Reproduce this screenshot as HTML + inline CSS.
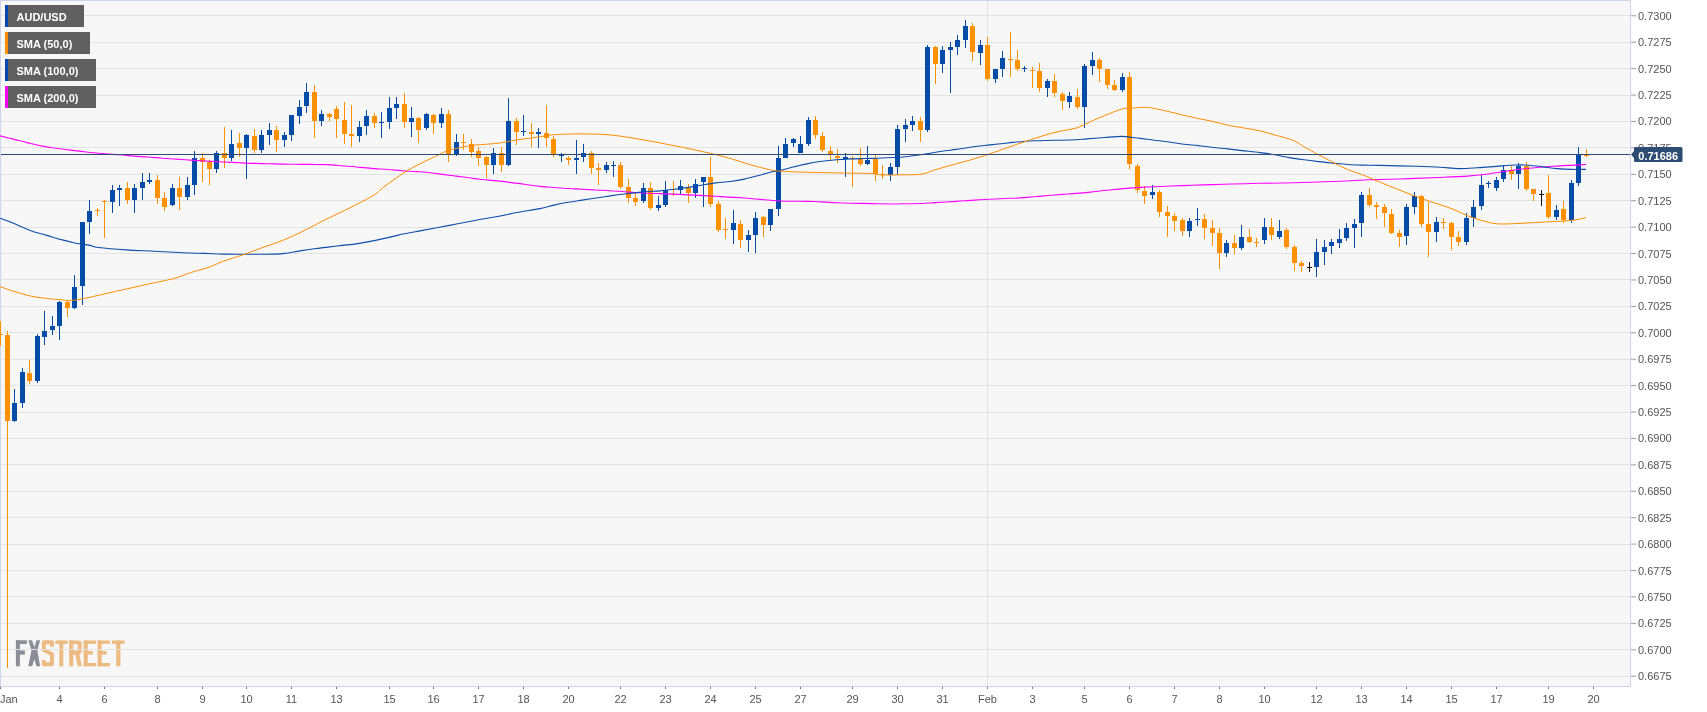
<!DOCTYPE html>
<html><head><meta charset="utf-8"><style>
html,body{margin:0;padding:0;background:#fff;}
body{width:1707px;height:712px;position:relative;overflow:hidden;font-family:"Liberation Sans",sans-serif;}
.lg{position:absolute;left:5px;height:22px;background:#606060;color:#fff;font-weight:bold;font-size:11px;line-height:25px;will-change:transform;box-sizing:border-box;padding-left:11.5px;white-space:nowrap;}
.st{position:absolute;left:0;top:0;width:3px;height:22px;}
</style></head><body>
<svg width="1707" height="712" viewBox="0 0 1707 712" style="position:absolute;left:0;top:0;will-change:transform">
<rect x="0" y="0" width="1631" height="687" fill="#f7f7f7"/>
<g><g fill="#8b8e98"><rect x="15.9" y="640.3" width="4" height="26"/><rect x="15.9" y="640.3" width="11" height="3.7"/><rect x="15.9" y="650.5" width="9" height="4.1"/><polygon points="28.3,640.3 32.1,640.3 34.4,647.3 36.4,640.3 40.1,640.3 37.6,649.6 37.6,651.8 40.1,666.3 36.4,666.3 34.4,659.2 32.2,666.3 28.3,666.3 31.2,651.8 31.2,649.6"/></g><g fill="none" stroke="#edbb82" stroke-width="4" stroke-linejoin="round"><path d="M52,646.8 L52,642.3 L43.8,642.3 L43.8,649.8 L52,654.2 L52,664.3 L43.8,664.3 L43.8,659.9"/></g><g fill="#edbb82"><rect x="55.3" y="640.5" width="12.4" height="3.4"/><rect x="59.3" y="640.5" width="4" height="25.8"/><rect x="69.2" y="640.5" width="4" height="25.8"/><path d="M69.2,640.5 L78.5,640.5 Q81.8,640.5 81.8,643.8 L81.8,650 Q81.8,653 79.5,654.2 L81.8,666.3 L77.6,666.3 L75.3,654.6 L69.2,654.6 L69.2,650.5 L77.8,650.5 L77.8,644.3 L69.2,644.3 Z"/><rect x="83.7" y="640.5" width="4.1" height="25.8"/><rect x="83.7" y="640.5" width="12.3" height="3.4"/><rect x="83.7" y="651" width="9.1" height="3.6"/><rect x="83.7" y="663" width="12.3" height="3.3"/><rect x="97.6" y="640.5" width="4.1" height="25.8"/><rect x="97.6" y="640.5" width="12.3" height="3.4"/><rect x="97.6" y="651" width="9.1" height="3.6"/><rect x="97.6" y="663" width="12.3" height="3.3"/><rect x="111.9" y="640.5" width="12.6" height="3.4"/><rect x="116.2" y="640.5" width="4.2" height="25.8"/></g></g>
<g fill="#e3e3e3" shape-rendering="crispEdges">
<rect x="1" y="15" width="1629" height="1"/>
<rect x="1" y="42" width="1629" height="1"/>
<rect x="1" y="68" width="1629" height="1"/>
<rect x="1" y="95" width="1629" height="1"/>
<rect x="1" y="121" width="1629" height="1"/>
<rect x="1" y="147" width="1629" height="1"/>
<rect x="1" y="174" width="1629" height="1"/>
<rect x="1" y="200" width="1629" height="1"/>
<rect x="1" y="227" width="1629" height="1"/>
<rect x="1" y="253" width="1629" height="1"/>
<rect x="1" y="279" width="1629" height="1"/>
<rect x="1" y="306" width="1629" height="1"/>
<rect x="1" y="332" width="1629" height="1"/>
<rect x="1" y="359" width="1629" height="1"/>
<rect x="1" y="385" width="1629" height="1"/>
<rect x="1" y="412" width="1629" height="1"/>
<rect x="1" y="438" width="1629" height="1"/>
<rect x="1" y="464" width="1629" height="1"/>
<rect x="1" y="491" width="1629" height="1"/>
<rect x="1" y="517" width="1629" height="1"/>
<rect x="1" y="544" width="1629" height="1"/>
<rect x="1" y="570" width="1629" height="1"/>
<rect x="1" y="596" width="1629" height="1"/>
<rect x="1" y="623" width="1629" height="1"/>
<rect x="1" y="649" width="1629" height="1"/>
<rect x="1" y="676" width="1629" height="1"/>
<rect x="987" y="1" width="1" height="685"/>
</g>
<g fill="#cfd5e8" shape-rendering="crispEdges">
<rect x="0" y="0" width="1631" height="1"/>
<rect x="0" y="0" width="1" height="687"/>
<rect x="1630" y="0" width="1" height="687"/>
<rect x="0" y="686" width="1631" height="1"/>
</g>
<g shape-rendering="crispEdges">
<rect x="0" y="321" width="1" height="25" fill="#ff9000"/>
<rect x="-2" y="334" width="5" height="1" fill="#ff9000"/>
<rect x="7" y="331" width="1" height="337" fill="#ff9000"/>
<rect x="5" y="335" width="5" height="86" fill="#ff9000"/>
<rect x="14" y="389" width="1" height="33" fill="#054ca8"/>
<rect x="12" y="403" width="5" height="18" fill="#054ca8"/>
<rect x="22" y="368" width="1" height="40" fill="#054ca8"/>
<rect x="20" y="372" width="5" height="31" fill="#054ca8"/>
<rect x="29" y="360" width="1" height="24" fill="#ff9000"/>
<rect x="27" y="373" width="5" height="8" fill="#ff9000"/>
<rect x="37" y="334" width="1" height="49" fill="#054ca8"/>
<rect x="35" y="336" width="5" height="45" fill="#054ca8"/>
<rect x="44" y="311" width="1" height="34" fill="#054ca8"/>
<rect x="42" y="331" width="5" height="6" fill="#054ca8"/>
<rect x="52" y="316" width="1" height="19" fill="#054ca8"/>
<rect x="50" y="326" width="5" height="4" fill="#054ca8"/>
<rect x="59" y="301" width="1" height="39" fill="#054ca8"/>
<rect x="57" y="302" width="5" height="24" fill="#054ca8"/>
<rect x="67" y="300" width="1" height="17" fill="#ff9000"/>
<rect x="65" y="302" width="5" height="6" fill="#ff9000"/>
<rect x="74" y="275" width="1" height="34" fill="#054ca8"/>
<rect x="72" y="287" width="5" height="21" fill="#054ca8"/>
<rect x="82" y="222" width="1" height="83" fill="#054ca8"/>
<rect x="80" y="222" width="5" height="64" fill="#054ca8"/>
<rect x="89" y="200" width="1" height="34" fill="#054ca8"/>
<rect x="87" y="211" width="5" height="11" fill="#054ca8"/>
<rect x="97" y="208" width="1" height="8" fill="#ff9000"/>
<rect x="95" y="210" width="5" height="1" fill="#ff9000"/>
<rect x="104" y="200" width="1" height="38" fill="#ff9000"/>
<rect x="102" y="201" width="5" height="1" fill="#ff9000"/>
<rect x="112" y="185" width="1" height="28" fill="#054ca8"/>
<rect x="110" y="190" width="5" height="12" fill="#054ca8"/>
<rect x="119" y="185" width="1" height="21" fill="#054ca8"/>
<rect x="117" y="188" width="5" height="2" fill="#054ca8"/>
<rect x="127" y="182" width="1" height="22" fill="#ff9000"/>
<rect x="125" y="188" width="5" height="12" fill="#ff9000"/>
<rect x="134" y="184" width="1" height="29" fill="#054ca8"/>
<rect x="132" y="188" width="5" height="12" fill="#054ca8"/>
<rect x="142" y="173" width="1" height="27" fill="#054ca8"/>
<rect x="140" y="182" width="5" height="6" fill="#054ca8"/>
<rect x="149" y="173" width="1" height="11" fill="#054ca8"/>
<rect x="147" y="180" width="5" height="2" fill="#054ca8"/>
<rect x="157" y="175" width="1" height="29" fill="#ff9000"/>
<rect x="155" y="180" width="5" height="18" fill="#ff9000"/>
<rect x="164" y="192" width="1" height="19" fill="#ff9000"/>
<rect x="162" y="198" width="5" height="9" fill="#ff9000"/>
<rect x="172" y="184" width="1" height="22" fill="#054ca8"/>
<rect x="170" y="188" width="5" height="17" fill="#054ca8"/>
<rect x="179" y="177" width="1" height="33" fill="#ff9000"/>
<rect x="177" y="188" width="5" height="9" fill="#ff9000"/>
<rect x="187" y="177" width="1" height="23" fill="#054ca8"/>
<rect x="185" y="185" width="5" height="12" fill="#054ca8"/>
<rect x="194" y="151" width="1" height="44" fill="#054ca8"/>
<rect x="192" y="158" width="5" height="27" fill="#054ca8"/>
<rect x="202" y="153" width="1" height="29" fill="#ff9000"/>
<rect x="200" y="158" width="5" height="4" fill="#ff9000"/>
<rect x="209" y="160" width="1" height="25" fill="#ff9000"/>
<rect x="207" y="162" width="5" height="7" fill="#ff9000"/>
<rect x="216" y="151" width="1" height="22" fill="#054ca8"/>
<rect x="214" y="153" width="5" height="16" fill="#054ca8"/>
<rect x="224" y="127" width="1" height="41" fill="#ff9000"/>
<rect x="222" y="153" width="5" height="5" fill="#ff9000"/>
<rect x="231" y="130" width="1" height="31" fill="#054ca8"/>
<rect x="229" y="144" width="5" height="14" fill="#054ca8"/>
<rect x="239" y="133" width="1" height="24" fill="#ff9000"/>
<rect x="237" y="143" width="5" height="5" fill="#ff9000"/>
<rect x="246" y="134" width="1" height="45" fill="#054ca8"/>
<rect x="244" y="135" width="5" height="13" fill="#054ca8"/>
<rect x="254" y="129" width="1" height="24" fill="#ff9000"/>
<rect x="252" y="136" width="5" height="14" fill="#ff9000"/>
<rect x="261" y="130" width="1" height="23" fill="#054ca8"/>
<rect x="259" y="135" width="5" height="15" fill="#054ca8"/>
<rect x="269" y="123" width="1" height="22" fill="#054ca8"/>
<rect x="267" y="130" width="5" height="5" fill="#054ca8"/>
<rect x="276" y="126" width="1" height="26" fill="#ff9000"/>
<rect x="274" y="130" width="5" height="10" fill="#ff9000"/>
<rect x="284" y="132" width="1" height="15" fill="#054ca8"/>
<rect x="282" y="135" width="5" height="5" fill="#054ca8"/>
<rect x="291" y="115" width="1" height="26" fill="#054ca8"/>
<rect x="289" y="115" width="5" height="20" fill="#054ca8"/>
<rect x="299" y="100" width="1" height="24" fill="#054ca8"/>
<rect x="297" y="107" width="5" height="9" fill="#054ca8"/>
<rect x="306" y="83" width="1" height="30" fill="#054ca8"/>
<rect x="304" y="92" width="5" height="14" fill="#054ca8"/>
<rect x="314" y="85" width="1" height="53" fill="#ff9000"/>
<rect x="312" y="92" width="5" height="29" fill="#ff9000"/>
<rect x="321" y="110" width="1" height="16" fill="#054ca8"/>
<rect x="319" y="114" width="5" height="7" fill="#054ca8"/>
<rect x="329" y="113" width="1" height="8" fill="#ff9000"/>
<rect x="327" y="114" width="5" height="3" fill="#ff9000"/>
<rect x="336" y="106" width="1" height="32" fill="#ff9000"/>
<rect x="334" y="109" width="5" height="10" fill="#ff9000"/>
<rect x="344" y="102" width="1" height="42" fill="#ff9000"/>
<rect x="342" y="120" width="5" height="14" fill="#ff9000"/>
<rect x="351" y="105" width="1" height="42" fill="#ff9000"/>
<rect x="349" y="134" width="5" height="2" fill="#ff9000"/>
<rect x="359" y="121" width="1" height="21" fill="#054ca8"/>
<rect x="357" y="127" width="5" height="9" fill="#054ca8"/>
<rect x="366" y="110" width="1" height="25" fill="#054ca8"/>
<rect x="364" y="116" width="5" height="10" fill="#054ca8"/>
<rect x="374" y="113" width="1" height="15" fill="#ff9000"/>
<rect x="372" y="116" width="5" height="7" fill="#ff9000"/>
<rect x="381" y="112" width="1" height="26" fill="#054ca8"/>
<rect x="379" y="122" width="5" height="1" fill="#054ca8"/>
<rect x="389" y="97" width="1" height="32" fill="#054ca8"/>
<rect x="387" y="108" width="5" height="14" fill="#054ca8"/>
<rect x="396" y="97" width="1" height="22" fill="#054ca8"/>
<rect x="394" y="104" width="5" height="4" fill="#054ca8"/>
<rect x="404" y="93" width="1" height="35" fill="#ff9000"/>
<rect x="402" y="104" width="5" height="18" fill="#ff9000"/>
<rect x="411" y="107" width="1" height="30" fill="#054ca8"/>
<rect x="409" y="118" width="5" height="4" fill="#054ca8"/>
<rect x="418" y="117" width="1" height="26" fill="#ff9000"/>
<rect x="416" y="118" width="5" height="12" fill="#ff9000"/>
<rect x="426" y="113" width="1" height="17" fill="#054ca8"/>
<rect x="424" y="114" width="5" height="14" fill="#054ca8"/>
<rect x="433" y="114" width="1" height="20" fill="#ff9000"/>
<rect x="431" y="115" width="5" height="8" fill="#ff9000"/>
<rect x="441" y="108" width="1" height="20" fill="#054ca8"/>
<rect x="439" y="114" width="5" height="9" fill="#054ca8"/>
<rect x="448" y="110" width="1" height="52" fill="#ff9000"/>
<rect x="446" y="114" width="5" height="40" fill="#ff9000"/>
<rect x="456" y="134" width="1" height="22" fill="#054ca8"/>
<rect x="454" y="142" width="5" height="12" fill="#054ca8"/>
<rect x="463" y="134" width="1" height="16" fill="#ff9000"/>
<rect x="461" y="142" width="5" height="1" fill="#ff9000"/>
<rect x="471" y="139" width="1" height="18" fill="#ff9000"/>
<rect x="469" y="144" width="5" height="8" fill="#ff9000"/>
<rect x="478" y="147" width="1" height="19" fill="#ff9000"/>
<rect x="476" y="151" width="5" height="7" fill="#ff9000"/>
<rect x="486" y="156" width="1" height="22" fill="#ff9000"/>
<rect x="484" y="157" width="5" height="8" fill="#ff9000"/>
<rect x="493" y="148" width="1" height="26" fill="#054ca8"/>
<rect x="491" y="153" width="5" height="12" fill="#054ca8"/>
<rect x="501" y="147" width="1" height="25" fill="#ff9000"/>
<rect x="499" y="153" width="5" height="12" fill="#ff9000"/>
<rect x="508" y="98" width="1" height="68" fill="#054ca8"/>
<rect x="506" y="121" width="5" height="44" fill="#054ca8"/>
<rect x="516" y="118" width="1" height="27" fill="#ff9000"/>
<rect x="514" y="121" width="5" height="11" fill="#ff9000"/>
<rect x="523" y="115" width="1" height="21" fill="#054ca8"/>
<rect x="521" y="131" width="5" height="1" fill="#054ca8"/>
<rect x="531" y="123" width="1" height="24" fill="#ff9000"/>
<rect x="529" y="132" width="5" height="2" fill="#ff9000"/>
<rect x="538" y="128" width="1" height="20" fill="#054ca8"/>
<rect x="536" y="132" width="5" height="2" fill="#054ca8"/>
<rect x="546" y="105" width="1" height="42" fill="#ff9000"/>
<rect x="544" y="133" width="5" height="5" fill="#ff9000"/>
<rect x="553" y="136" width="1" height="21" fill="#ff9000"/>
<rect x="551" y="139" width="5" height="16" fill="#ff9000"/>
<rect x="561" y="153" width="1" height="9" fill="#054ca8"/>
<rect x="559" y="155" width="5" height="1" fill="#054ca8"/>
<rect x="568" y="156" width="1" height="9" fill="#ff9000"/>
<rect x="566" y="158" width="5" height="2" fill="#ff9000"/>
<rect x="576" y="140" width="1" height="34" fill="#054ca8"/>
<rect x="574" y="158" width="5" height="2" fill="#054ca8"/>
<rect x="583" y="144" width="1" height="18" fill="#054ca8"/>
<rect x="581" y="153" width="5" height="4" fill="#054ca8"/>
<rect x="591" y="151" width="1" height="23" fill="#ff9000"/>
<rect x="589" y="153" width="5" height="15" fill="#ff9000"/>
<rect x="598" y="163" width="1" height="22" fill="#ff9000"/>
<rect x="596" y="168" width="5" height="2" fill="#ff9000"/>
<rect x="606" y="162" width="1" height="11" fill="#054ca8"/>
<rect x="604" y="165" width="5" height="5" fill="#054ca8"/>
<rect x="613" y="161" width="1" height="16" fill="#054ca8"/>
<rect x="611" y="165" width="5" height="1" fill="#054ca8"/>
<rect x="620" y="162" width="1" height="27" fill="#ff9000"/>
<rect x="618" y="165" width="5" height="22" fill="#ff9000"/>
<rect x="628" y="179" width="1" height="24" fill="#ff9000"/>
<rect x="626" y="187" width="5" height="11" fill="#ff9000"/>
<rect x="635" y="192" width="1" height="14" fill="#ff9000"/>
<rect x="633" y="198" width="5" height="4" fill="#ff9000"/>
<rect x="643" y="183" width="1" height="20" fill="#054ca8"/>
<rect x="641" y="188" width="5" height="13" fill="#054ca8"/>
<rect x="650" y="182" width="1" height="28" fill="#ff9000"/>
<rect x="648" y="188" width="5" height="20" fill="#ff9000"/>
<rect x="658" y="196" width="1" height="15" fill="#054ca8"/>
<rect x="656" y="205" width="5" height="3" fill="#054ca8"/>
<rect x="665" y="181" width="1" height="26" fill="#054ca8"/>
<rect x="663" y="190" width="5" height="15" fill="#054ca8"/>
<rect x="673" y="181" width="1" height="15" fill="#ff9000"/>
<rect x="671" y="189" width="5" height="1" fill="#ff9000"/>
<rect x="680" y="180" width="1" height="15" fill="#054ca8"/>
<rect x="678" y="186" width="5" height="4" fill="#054ca8"/>
<rect x="688" y="184" width="1" height="19" fill="#ff9000"/>
<rect x="686" y="188" width="5" height="5" fill="#ff9000"/>
<rect x="695" y="179" width="1" height="19" fill="#054ca8"/>
<rect x="693" y="184" width="5" height="9" fill="#054ca8"/>
<rect x="703" y="177" width="1" height="30" fill="#054ca8"/>
<rect x="701" y="177" width="5" height="5" fill="#054ca8"/>
<rect x="710" y="157" width="1" height="50" fill="#ff9000"/>
<rect x="708" y="177" width="5" height="27" fill="#ff9000"/>
<rect x="718" y="201" width="1" height="31" fill="#ff9000"/>
<rect x="716" y="204" width="5" height="26" fill="#ff9000"/>
<rect x="725" y="218" width="1" height="21" fill="#ff9000"/>
<rect x="723" y="229" width="5" height="1" fill="#ff9000"/>
<rect x="733" y="210" width="1" height="34" fill="#054ca8"/>
<rect x="731" y="223" width="5" height="7" fill="#054ca8"/>
<rect x="740" y="220" width="1" height="28" fill="#ff9000"/>
<rect x="738" y="224" width="5" height="16" fill="#ff9000"/>
<rect x="748" y="230" width="1" height="22" fill="#054ca8"/>
<rect x="746" y="235" width="5" height="5" fill="#054ca8"/>
<rect x="755" y="212" width="1" height="41" fill="#054ca8"/>
<rect x="753" y="218" width="5" height="17" fill="#054ca8"/>
<rect x="763" y="216" width="1" height="21" fill="#ff9000"/>
<rect x="761" y="217" width="5" height="8" fill="#ff9000"/>
<rect x="770" y="209" width="1" height="22" fill="#054ca8"/>
<rect x="768" y="209" width="5" height="16" fill="#054ca8"/>
<rect x="778" y="146" width="1" height="70" fill="#054ca8"/>
<rect x="776" y="158" width="5" height="51" fill="#054ca8"/>
<rect x="785" y="138" width="1" height="20" fill="#054ca8"/>
<rect x="783" y="144" width="5" height="14" fill="#054ca8"/>
<rect x="793" y="138" width="1" height="9" fill="#054ca8"/>
<rect x="791" y="139" width="5" height="4" fill="#054ca8"/>
<rect x="800" y="136" width="1" height="17" fill="#054ca8"/>
<rect x="798" y="144" width="5" height="9" fill="#054ca8"/>
<rect x="808" y="117" width="1" height="29" fill="#054ca8"/>
<rect x="806" y="120" width="5" height="24" fill="#054ca8"/>
<rect x="815" y="116" width="1" height="23" fill="#ff9000"/>
<rect x="813" y="120" width="5" height="15" fill="#ff9000"/>
<rect x="822" y="132" width="1" height="20" fill="#ff9000"/>
<rect x="820" y="136" width="5" height="14" fill="#ff9000"/>
<rect x="830" y="146" width="1" height="15" fill="#ff9000"/>
<rect x="828" y="151" width="5" height="4" fill="#ff9000"/>
<rect x="837" y="149" width="1" height="14" fill="#ff9000"/>
<rect x="835" y="156" width="5" height="2" fill="#ff9000"/>
<rect x="845" y="153" width="1" height="24" fill="#054ca8"/>
<rect x="843" y="157" width="5" height="2" fill="#054ca8"/>
<rect x="852" y="156" width="1" height="31" fill="#ff9000"/>
<rect x="850" y="158" width="5" height="1" fill="#ff9000"/>
<rect x="860" y="148" width="1" height="18" fill="#ff9000"/>
<rect x="858" y="159" width="5" height="5" fill="#ff9000"/>
<rect x="867" y="146" width="1" height="19" fill="#054ca8"/>
<rect x="865" y="160" width="5" height="4" fill="#054ca8"/>
<rect x="875" y="155" width="1" height="26" fill="#ff9000"/>
<rect x="873" y="159" width="5" height="15" fill="#ff9000"/>
<rect x="882" y="165" width="1" height="14" fill="#ff9000"/>
<rect x="880" y="174" width="5" height="1" fill="#ff9000"/>
<rect x="890" y="163" width="1" height="18" fill="#054ca8"/>
<rect x="888" y="167" width="5" height="8" fill="#054ca8"/>
<rect x="897" y="125" width="1" height="50" fill="#054ca8"/>
<rect x="895" y="129" width="5" height="38" fill="#054ca8"/>
<rect x="905" y="119" width="1" height="23" fill="#054ca8"/>
<rect x="903" y="125" width="5" height="4" fill="#054ca8"/>
<rect x="912" y="116" width="1" height="15" fill="#054ca8"/>
<rect x="910" y="121" width="5" height="4" fill="#054ca8"/>
<rect x="920" y="117" width="1" height="25" fill="#ff9000"/>
<rect x="918" y="121" width="5" height="9" fill="#ff9000"/>
<rect x="927" y="45" width="1" height="87" fill="#054ca8"/>
<rect x="925" y="47" width="5" height="83" fill="#054ca8"/>
<rect x="935" y="46" width="1" height="38" fill="#ff9000"/>
<rect x="933" y="47" width="5" height="17" fill="#ff9000"/>
<rect x="942" y="46" width="1" height="27" fill="#054ca8"/>
<rect x="940" y="50" width="5" height="14" fill="#054ca8"/>
<rect x="950" y="42" width="1" height="51" fill="#054ca8"/>
<rect x="948" y="47" width="5" height="3" fill="#054ca8"/>
<rect x="957" y="35" width="1" height="20" fill="#054ca8"/>
<rect x="955" y="40" width="5" height="7" fill="#054ca8"/>
<rect x="965" y="20" width="1" height="28" fill="#054ca8"/>
<rect x="963" y="26" width="5" height="14" fill="#054ca8"/>
<rect x="972" y="23" width="1" height="38" fill="#ff9000"/>
<rect x="970" y="26" width="5" height="26" fill="#ff9000"/>
<rect x="980" y="40" width="1" height="25" fill="#054ca8"/>
<rect x="978" y="45" width="5" height="8" fill="#054ca8"/>
<rect x="987" y="37" width="1" height="44" fill="#ff9000"/>
<rect x="985" y="45" width="5" height="34" fill="#ff9000"/>
<rect x="995" y="69" width="1" height="14" fill="#054ca8"/>
<rect x="993" y="69" width="5" height="10" fill="#054ca8"/>
<rect x="1002" y="51" width="1" height="26" fill="#054ca8"/>
<rect x="1000" y="58" width="5" height="11" fill="#054ca8"/>
<rect x="1010" y="32" width="1" height="45" fill="#ff9000"/>
<rect x="1008" y="59" width="5" height="1" fill="#ff9000"/>
<rect x="1017" y="50" width="1" height="21" fill="#ff9000"/>
<rect x="1015" y="60" width="5" height="9" fill="#ff9000"/>
<rect x="1024" y="66" width="1" height="6" fill="#054ca8"/>
<rect x="1022" y="68" width="5" height="1" fill="#054ca8"/>
<rect x="1032" y="67" width="1" height="21" fill="#ff9000"/>
<rect x="1030" y="70" width="5" height="1" fill="#ff9000"/>
<rect x="1039" y="63" width="1" height="29" fill="#ff9000"/>
<rect x="1037" y="71" width="5" height="17" fill="#ff9000"/>
<rect x="1047" y="79" width="1" height="18" fill="#054ca8"/>
<rect x="1045" y="81" width="5" height="7" fill="#054ca8"/>
<rect x="1054" y="74" width="1" height="23" fill="#ff9000"/>
<rect x="1052" y="81" width="5" height="12" fill="#ff9000"/>
<rect x="1062" y="92" width="1" height="18" fill="#ff9000"/>
<rect x="1060" y="94" width="5" height="7" fill="#ff9000"/>
<rect x="1069" y="92" width="1" height="16" fill="#054ca8"/>
<rect x="1067" y="96" width="5" height="6" fill="#054ca8"/>
<rect x="1077" y="89" width="1" height="20" fill="#ff9000"/>
<rect x="1075" y="97" width="5" height="10" fill="#ff9000"/>
<rect x="1084" y="64" width="1" height="64" fill="#054ca8"/>
<rect x="1082" y="66" width="5" height="41" fill="#054ca8"/>
<rect x="1092" y="52" width="1" height="23" fill="#054ca8"/>
<rect x="1090" y="60" width="5" height="6" fill="#054ca8"/>
<rect x="1099" y="58" width="1" height="24" fill="#ff9000"/>
<rect x="1097" y="60" width="5" height="9" fill="#ff9000"/>
<rect x="1107" y="69" width="1" height="20" fill="#ff9000"/>
<rect x="1105" y="69" width="5" height="16" fill="#ff9000"/>
<rect x="1114" y="80" width="1" height="11" fill="#ff9000"/>
<rect x="1112" y="85" width="5" height="5" fill="#ff9000"/>
<rect x="1122" y="73" width="1" height="19" fill="#054ca8"/>
<rect x="1120" y="77" width="5" height="13" fill="#054ca8"/>
<rect x="1129" y="72" width="1" height="97" fill="#ff9000"/>
<rect x="1127" y="77" width="5" height="87" fill="#ff9000"/>
<rect x="1137" y="164" width="1" height="29" fill="#ff9000"/>
<rect x="1135" y="166" width="5" height="24" fill="#ff9000"/>
<rect x="1144" y="186" width="1" height="18" fill="#ff9000"/>
<rect x="1142" y="191" width="5" height="5" fill="#ff9000"/>
<rect x="1152" y="185" width="1" height="14" fill="#054ca8"/>
<rect x="1150" y="192" width="5" height="3" fill="#054ca8"/>
<rect x="1159" y="190" width="1" height="27" fill="#ff9000"/>
<rect x="1157" y="192" width="5" height="20" fill="#ff9000"/>
<rect x="1167" y="206" width="1" height="31" fill="#ff9000"/>
<rect x="1165" y="212" width="5" height="4" fill="#ff9000"/>
<rect x="1174" y="213" width="1" height="18" fill="#ff9000"/>
<rect x="1172" y="216" width="5" height="5" fill="#ff9000"/>
<rect x="1182" y="218" width="1" height="18" fill="#ff9000"/>
<rect x="1180" y="220" width="5" height="11" fill="#ff9000"/>
<rect x="1189" y="218" width="1" height="19" fill="#054ca8"/>
<rect x="1187" y="221" width="5" height="10" fill="#054ca8"/>
<rect x="1197" y="208" width="1" height="18" fill="#054ca8"/>
<rect x="1195" y="219" width="5" height="1" fill="#054ca8"/>
<rect x="1204" y="214" width="1" height="25" fill="#ff9000"/>
<rect x="1202" y="219" width="5" height="9" fill="#ff9000"/>
<rect x="1212" y="220" width="1" height="26" fill="#ff9000"/>
<rect x="1210" y="228" width="5" height="5" fill="#ff9000"/>
<rect x="1219" y="228" width="1" height="41" fill="#ff9000"/>
<rect x="1217" y="233" width="5" height="20" fill="#ff9000"/>
<rect x="1226" y="240" width="1" height="17" fill="#054ca8"/>
<rect x="1224" y="243" width="5" height="10" fill="#054ca8"/>
<rect x="1234" y="235" width="1" height="19" fill="#ff9000"/>
<rect x="1232" y="243" width="5" height="5" fill="#ff9000"/>
<rect x="1241" y="225" width="1" height="25" fill="#054ca8"/>
<rect x="1239" y="237" width="5" height="11" fill="#054ca8"/>
<rect x="1249" y="229" width="1" height="14" fill="#ff9000"/>
<rect x="1247" y="237" width="5" height="5" fill="#ff9000"/>
<rect x="1256" y="238" width="1" height="9" fill="#ff9000"/>
<rect x="1254" y="242" width="5" height="1" fill="#ff9000"/>
<rect x="1264" y="218" width="1" height="26" fill="#054ca8"/>
<rect x="1262" y="227" width="5" height="13" fill="#054ca8"/>
<rect x="1271" y="218" width="1" height="22" fill="#ff9000"/>
<rect x="1269" y="227" width="5" height="8" fill="#ff9000"/>
<rect x="1279" y="220" width="1" height="19" fill="#054ca8"/>
<rect x="1277" y="231" width="5" height="6" fill="#054ca8"/>
<rect x="1286" y="228" width="1" height="21" fill="#ff9000"/>
<rect x="1284" y="230" width="5" height="17" fill="#ff9000"/>
<rect x="1294" y="245" width="1" height="26" fill="#ff9000"/>
<rect x="1292" y="247" width="5" height="16" fill="#ff9000"/>
<rect x="1301" y="261" width="1" height="11" fill="#ff9000"/>
<rect x="1299" y="263" width="5" height="3" fill="#ff9000"/>
<rect x="1309" y="262" width="1" height="10" fill="#111111"/>
<rect x="1307" y="267" width="5" height="1" fill="#111111"/>
<rect x="1316" y="239" width="1" height="38" fill="#054ca8"/>
<rect x="1314" y="252" width="5" height="15" fill="#054ca8"/>
<rect x="1324" y="240" width="1" height="25" fill="#054ca8"/>
<rect x="1322" y="247" width="5" height="5" fill="#054ca8"/>
<rect x="1331" y="239" width="1" height="15" fill="#054ca8"/>
<rect x="1329" y="242" width="5" height="4" fill="#054ca8"/>
<rect x="1339" y="229" width="1" height="19" fill="#054ca8"/>
<rect x="1337" y="239" width="5" height="4" fill="#054ca8"/>
<rect x="1346" y="223" width="1" height="18" fill="#054ca8"/>
<rect x="1344" y="228" width="5" height="10" fill="#054ca8"/>
<rect x="1354" y="219" width="1" height="29" fill="#054ca8"/>
<rect x="1352" y="224" width="5" height="4" fill="#054ca8"/>
<rect x="1361" y="192" width="1" height="45" fill="#054ca8"/>
<rect x="1359" y="195" width="5" height="28" fill="#054ca8"/>
<rect x="1369" y="188" width="1" height="19" fill="#ff9000"/>
<rect x="1367" y="195" width="5" height="10" fill="#ff9000"/>
<rect x="1376" y="202" width="1" height="17" fill="#ff9000"/>
<rect x="1374" y="205" width="5" height="2" fill="#ff9000"/>
<rect x="1384" y="204" width="1" height="23" fill="#ff9000"/>
<rect x="1382" y="207" width="5" height="6" fill="#ff9000"/>
<rect x="1391" y="209" width="1" height="25" fill="#ff9000"/>
<rect x="1389" y="214" width="5" height="19" fill="#ff9000"/>
<rect x="1399" y="230" width="1" height="17" fill="#ff9000"/>
<rect x="1397" y="233" width="5" height="4" fill="#ff9000"/>
<rect x="1406" y="204" width="1" height="41" fill="#054ca8"/>
<rect x="1404" y="207" width="5" height="29" fill="#054ca8"/>
<rect x="1414" y="192" width="1" height="22" fill="#054ca8"/>
<rect x="1412" y="196" width="5" height="11" fill="#054ca8"/>
<rect x="1421" y="195" width="1" height="32" fill="#ff9000"/>
<rect x="1419" y="196" width="5" height="28" fill="#ff9000"/>
<rect x="1428" y="202" width="1" height="55" fill="#ff9000"/>
<rect x="1426" y="224" width="5" height="8" fill="#ff9000"/>
<rect x="1436" y="217" width="1" height="25" fill="#054ca8"/>
<rect x="1434" y="222" width="5" height="10" fill="#054ca8"/>
<rect x="1443" y="218" width="1" height="11" fill="#ff9000"/>
<rect x="1441" y="222" width="5" height="1" fill="#ff9000"/>
<rect x="1451" y="222" width="1" height="28" fill="#ff9000"/>
<rect x="1449" y="223" width="5" height="14" fill="#ff9000"/>
<rect x="1458" y="231" width="1" height="15" fill="#ff9000"/>
<rect x="1456" y="237" width="5" height="5" fill="#ff9000"/>
<rect x="1466" y="213" width="1" height="32" fill="#054ca8"/>
<rect x="1464" y="218" width="5" height="24" fill="#054ca8"/>
<rect x="1473" y="200" width="1" height="27" fill="#054ca8"/>
<rect x="1471" y="207" width="5" height="11" fill="#054ca8"/>
<rect x="1481" y="175" width="1" height="35" fill="#054ca8"/>
<rect x="1479" y="185" width="5" height="21" fill="#054ca8"/>
<rect x="1488" y="181" width="1" height="7" fill="#054ca8"/>
<rect x="1486" y="183" width="5" height="1" fill="#054ca8"/>
<rect x="1496" y="177" width="1" height="14" fill="#054ca8"/>
<rect x="1494" y="180" width="5" height="8" fill="#054ca8"/>
<rect x="1503" y="165" width="1" height="17" fill="#054ca8"/>
<rect x="1501" y="170" width="5" height="9" fill="#054ca8"/>
<rect x="1511" y="166" width="1" height="14" fill="#ff9000"/>
<rect x="1509" y="170" width="5" height="4" fill="#ff9000"/>
<rect x="1518" y="163" width="1" height="26" fill="#054ca8"/>
<rect x="1516" y="166" width="5" height="8" fill="#054ca8"/>
<rect x="1526" y="162" width="1" height="29" fill="#ff9000"/>
<rect x="1524" y="166" width="5" height="23" fill="#ff9000"/>
<rect x="1533" y="189" width="1" height="12" fill="#ff9000"/>
<rect x="1531" y="189" width="5" height="5" fill="#ff9000"/>
<rect x="1541" y="190" width="1" height="16" fill="#111111"/>
<rect x="1539" y="194" width="5" height="1" fill="#111111"/>
<rect x="1548" y="175" width="1" height="44" fill="#ff9000"/>
<rect x="1546" y="193" width="5" height="24" fill="#ff9000"/>
<rect x="1556" y="205" width="1" height="15" fill="#054ca8"/>
<rect x="1554" y="210" width="5" height="7" fill="#054ca8"/>
<rect x="1563" y="201" width="1" height="22" fill="#ff9000"/>
<rect x="1561" y="209" width="5" height="11" fill="#ff9000"/>
<rect x="1571" y="180" width="1" height="43" fill="#054ca8"/>
<rect x="1569" y="183" width="5" height="37" fill="#054ca8"/>
<rect x="1578" y="147" width="1" height="39" fill="#054ca8"/>
<rect x="1576" y="155" width="5" height="28" fill="#054ca8"/>
<rect x="1586" y="149" width="1" height="8" fill="#ff9000"/>
<rect x="1584" y="155" width="5" height="1" fill="#ff9000"/>
</g>
<path d="M0.00,135.90 C2.35,136.48 9.42,138.23 14.10,139.40 C18.78,140.57 23.42,141.78 28.10,142.90 C32.78,144.02 37.52,145.22 42.20,146.10 C46.88,146.98 51.52,147.53 56.20,148.20 C60.88,148.87 65.60,149.52 70.30,150.10 C75.00,150.68 79.72,151.18 84.40,151.70 C89.08,152.22 93.72,152.75 98.40,153.20 C103.08,153.65 108.90,154.13 112.50,154.40 C116.10,154.67 116.40,154.52 120.00,154.80 C123.60,155.08 129.42,155.73 134.10,156.10 C138.78,156.47 143.42,156.65 148.10,157.00 C152.78,157.35 157.52,157.85 162.20,158.20 C166.88,158.55 171.52,158.78 176.20,159.10 C180.88,159.42 185.60,159.78 190.30,160.10 C195.00,160.42 199.72,160.73 204.40,161.00 C209.08,161.27 213.72,161.47 218.40,161.70 C223.08,161.93 228.90,162.22 232.50,162.40 C236.10,162.58 236.40,162.63 240.00,162.80 C243.60,162.97 249.42,163.25 254.10,163.40 C258.78,163.55 263.42,163.58 268.10,163.70 C272.78,163.82 277.52,164.00 282.20,164.10 C286.88,164.20 291.52,164.25 296.20,164.30 C300.88,164.35 305.02,164.35 310.30,164.40 C315.58,164.45 323.22,164.42 327.90,164.60 C332.58,164.78 334.30,165.18 338.40,165.50 C342.50,165.82 348.90,166.18 352.50,166.50 C356.10,166.82 356.40,167.05 360.00,167.40 C363.60,167.75 369.42,168.25 374.10,168.60 C378.78,168.95 383.42,169.15 388.10,169.50 C392.78,169.85 397.52,170.35 402.20,170.70 C406.88,171.05 411.52,171.27 416.20,171.60 C420.88,171.93 425.60,172.20 430.30,172.70 C435.00,173.20 439.72,173.98 444.40,174.60 C449.08,175.22 453.72,175.78 458.40,176.40 C463.08,177.02 468.90,177.82 472.50,178.30 C476.10,178.78 474.07,178.67 480.00,179.30 C485.93,179.93 498.10,180.92 508.10,182.10 C518.10,183.28 532.33,185.50 540.00,186.40 C547.67,187.30 549.42,187.15 554.10,187.50 C558.78,187.85 563.42,188.22 568.10,188.50 C572.78,188.78 577.52,188.95 582.20,189.20 C586.88,189.45 591.52,189.75 596.20,190.00 C600.88,190.25 605.60,190.42 610.30,190.70 C615.00,190.98 619.72,191.35 624.40,191.70 C629.08,192.05 633.72,192.50 638.40,192.80 C643.08,193.10 648.90,193.37 652.50,193.50 C656.10,193.63 654.07,193.37 660.00,193.60 C665.93,193.83 678.73,194.45 688.10,194.90 C697.47,195.35 706.82,195.78 716.20,196.30 C725.58,196.82 733.77,197.22 744.40,198.00 C755.03,198.78 770.55,200.45 780.00,201.00 C789.45,201.55 795.25,201.22 801.10,201.30 C806.95,201.38 810.42,201.32 815.10,201.50 C819.78,201.68 823.33,202.12 829.20,202.40 C835.07,202.68 843.27,203.00 850.30,203.20 C857.33,203.40 864.37,203.47 871.40,203.60 C878.43,203.73 887.73,203.97 892.50,204.00 C897.27,204.03 895.23,203.88 900.00,203.80 C904.77,203.72 915.23,203.70 921.10,203.50 C926.97,203.30 929.35,202.95 935.20,202.60 C941.05,202.25 950.35,201.77 956.20,201.40 C962.05,201.03 965.02,200.77 970.30,200.40 C975.58,200.03 982.05,199.52 987.90,199.20 C993.75,198.88 1000.05,198.72 1005.40,198.50 C1010.75,198.28 1015.22,198.20 1020.00,197.90 C1024.78,197.60 1029.42,197.10 1034.10,196.70 C1038.78,196.30 1043.42,195.88 1048.10,195.50 C1052.78,195.12 1057.52,194.75 1062.20,194.40 C1066.88,194.05 1071.52,193.78 1076.20,193.40 C1080.88,193.02 1085.60,192.58 1090.30,192.10 C1095.00,191.62 1099.72,191.00 1104.40,190.50 C1109.08,190.00 1113.72,189.53 1118.40,189.10 C1123.08,188.67 1128.90,188.18 1132.50,187.90 C1136.10,187.62 1135.23,187.63 1140.00,187.40 C1144.77,187.17 1154.07,186.80 1161.10,186.50 C1168.13,186.20 1175.17,185.87 1182.20,185.60 C1189.23,185.33 1196.27,185.13 1203.30,184.90 C1210.33,184.67 1217.38,184.40 1224.40,184.20 C1231.42,184.00 1239.47,183.85 1245.40,183.70 C1251.33,183.55 1253.50,183.42 1260.00,183.30 C1266.50,183.18 1275.65,183.18 1284.40,183.00 C1293.15,182.82 1303.13,182.50 1312.50,182.20 C1321.87,181.90 1331.23,181.60 1340.60,181.20 C1349.97,180.80 1362.13,180.08 1368.70,179.80 C1375.27,179.52 1373.25,179.70 1380.00,179.50 C1386.75,179.30 1399.47,178.93 1409.20,178.60 C1418.93,178.27 1428.65,177.92 1438.40,177.50 C1448.15,177.08 1459.77,176.63 1467.70,176.10 C1475.63,175.57 1479.68,175.10 1486.00,174.30 C1492.32,173.50 1499.22,172.23 1505.60,171.30 C1511.98,170.37 1516.48,169.53 1524.30,168.70 C1532.12,167.87 1542.22,167.00 1552.50,166.30 C1562.78,165.60 1580.42,164.80 1586.00,164.50" fill="none" stroke="#ff00ff" stroke-width="1.1" stroke-linejoin="round"/>
<path d="M0.00,218.20 C1.75,218.82 6.98,220.48 10.50,221.90 C14.02,223.32 17.58,225.20 21.10,226.70 C24.62,228.20 28.08,229.68 31.60,230.90 C35.12,232.12 38.68,232.95 42.20,234.00 C45.72,235.05 49.18,236.18 52.70,237.20 C56.22,238.22 59.78,239.18 63.30,240.10 C66.82,241.02 71.17,242.08 73.80,242.70 C76.43,243.32 76.40,243.35 79.10,243.80 C81.80,244.25 86.78,244.78 90.00,245.40 C93.22,246.02 92.32,246.75 98.40,247.50 C104.48,248.25 117.12,249.28 126.50,249.90 C135.88,250.52 145.32,250.73 154.70,251.20 C164.08,251.67 174.42,252.33 182.80,252.70 C191.18,253.07 198.18,253.17 205.00,253.40 C211.82,253.63 217.45,253.97 223.70,254.10 C229.95,254.23 236.25,254.18 242.50,254.20 C248.75,254.22 255.73,254.22 261.20,254.20 C266.67,254.18 271.33,254.23 275.30,254.10 C279.27,253.97 280.88,253.93 285.00,253.40 C289.12,252.87 295.15,251.67 300.00,250.90 C304.85,250.13 309.42,249.43 314.10,248.80 C318.78,248.17 323.42,247.67 328.10,247.10 C332.78,246.53 337.52,245.93 342.20,245.40 C346.88,244.87 351.52,244.57 356.20,243.90 C360.88,243.23 365.60,242.32 370.30,241.40 C375.00,240.48 379.72,239.45 384.40,238.40 C389.08,237.35 393.72,236.12 398.40,235.10 C403.08,234.08 408.90,233.00 412.50,232.30 C416.10,231.60 414.07,232.02 420.00,230.90 C425.93,229.78 438.73,227.38 448.10,225.60 C457.47,223.82 468.00,221.72 476.20,220.20 C484.40,218.68 490.27,217.82 497.30,216.50 C504.33,215.18 511.28,213.62 518.40,212.30 C525.52,210.98 534.05,209.80 540.00,208.60 C545.95,207.40 549.42,206.15 554.10,205.10 C558.78,204.05 563.42,203.13 568.10,202.30 C572.78,201.47 577.52,200.82 582.20,200.10 C586.88,199.38 591.52,198.70 596.20,198.00 C600.88,197.30 605.60,196.57 610.30,195.90 C615.00,195.23 619.72,194.58 624.40,194.00 C629.08,193.42 633.72,192.87 638.40,192.40 C643.08,191.93 648.90,191.45 652.50,191.20 C656.10,190.95 656.40,191.22 660.00,190.90 C663.60,190.58 669.42,189.88 674.10,189.30 C678.78,188.72 683.42,188.12 688.10,187.40 C692.78,186.68 697.52,185.75 702.20,185.00 C706.88,184.25 711.52,183.48 716.20,182.90 C720.88,182.32 725.60,182.13 730.30,181.50 C735.00,180.87 739.72,180.10 744.40,179.10 C749.08,178.10 753.72,176.73 758.40,175.50 C763.08,174.27 769.07,172.52 772.50,171.70 C775.93,170.88 775.40,171.42 779.00,170.60 C782.60,169.78 789.25,167.97 794.10,166.80 C798.95,165.63 803.42,164.52 808.10,163.60 C812.78,162.68 817.52,161.93 822.20,161.30 C826.88,160.67 831.52,160.20 836.20,159.80 C840.88,159.40 845.60,159.12 850.30,158.90 C855.00,158.68 859.72,158.62 864.40,158.50 C869.08,158.38 873.72,158.37 878.40,158.20 C883.08,158.03 888.90,157.65 892.50,157.50 C896.10,157.35 895.58,157.72 900.00,157.30 C904.42,156.88 914.32,155.62 919.00,155.00 C923.68,154.38 924.23,154.22 928.10,153.60 C931.97,152.98 937.52,152.00 942.20,151.30 C946.88,150.60 951.52,150.07 956.20,149.40 C960.88,148.73 965.60,147.95 970.30,147.30 C975.00,146.65 979.72,146.05 984.40,145.50 C989.08,144.95 993.72,144.52 998.40,144.00 C1003.08,143.48 1008.90,142.77 1012.50,142.40 C1016.10,142.03 1016.40,142.08 1020.00,141.80 C1023.60,141.52 1028.25,140.95 1034.10,140.70 C1039.95,140.45 1048.08,140.45 1055.10,140.30 C1062.12,140.15 1070.92,140.03 1076.20,139.80 C1081.48,139.57 1082.10,139.28 1086.80,138.90 C1091.50,138.52 1098.55,137.92 1104.40,137.50 C1110.25,137.08 1117.22,136.40 1121.90,136.40 C1126.58,136.40 1129.48,137.17 1132.50,137.50 C1135.52,137.83 1136.32,137.95 1140.00,138.40 C1143.68,138.85 1149.73,139.60 1154.60,140.20 C1159.47,140.80 1164.33,141.33 1169.20,142.00 C1174.07,142.67 1178.93,143.60 1183.80,144.20 C1188.67,144.80 1193.53,145.05 1198.40,145.60 C1203.27,146.15 1208.12,146.95 1213.00,147.50 C1217.88,148.05 1222.82,148.38 1227.70,148.90 C1232.58,149.42 1236.92,149.98 1242.30,150.60 C1247.68,151.22 1254.62,151.92 1260.00,152.60 C1265.38,153.28 1269.73,153.87 1274.60,154.70 C1279.47,155.53 1284.33,156.75 1289.20,157.60 C1294.07,158.45 1298.93,159.13 1303.80,159.80 C1308.67,160.47 1313.53,161.05 1318.40,161.60 C1323.27,162.15 1328.12,162.62 1333.00,163.10 C1337.88,163.58 1342.82,164.17 1347.70,164.50 C1352.58,164.83 1356.92,164.95 1362.30,165.10 C1367.68,165.25 1371.02,165.20 1380.00,165.40 C1388.98,165.60 1406.20,166.00 1416.20,166.30 C1426.20,166.60 1432.92,166.82 1440.00,167.20 C1447.08,167.58 1452.45,168.50 1458.70,168.60 C1464.95,168.70 1471.25,168.17 1477.50,167.80 C1483.75,167.43 1489.95,166.87 1496.20,166.40 C1502.45,165.93 1509.53,165.20 1515.00,165.00 C1520.47,164.80 1524.32,164.88 1529.00,165.20 C1533.68,165.52 1538.40,166.33 1543.10,166.90 C1547.80,167.47 1552.52,168.18 1557.20,168.60 C1561.88,169.02 1566.40,169.27 1571.20,169.40 C1576.00,169.53 1583.53,169.40 1586.00,169.40" fill="none" stroke="#0d4dab" stroke-width="1.1" stroke-linejoin="round"/>
<path d="M0.00,286.60 C1.75,287.22 6.98,289.15 10.50,290.30 C14.02,291.45 17.58,292.50 21.10,293.50 C24.62,294.50 28.08,295.57 31.60,296.30 C35.12,297.03 38.68,297.43 42.20,297.90 C45.72,298.37 49.73,298.82 52.70,299.10 C55.67,299.38 57.07,299.37 60.00,299.60 C62.93,299.83 66.23,300.70 70.30,300.50 C74.37,300.30 77.37,299.80 84.40,298.40 C91.43,297.00 101.78,294.50 112.50,292.10 C123.22,289.70 139.53,286.02 148.70,284.00 C157.87,281.98 162.80,281.05 167.50,280.00 C172.20,278.95 173.78,278.67 176.90,277.70 C180.02,276.73 183.08,275.30 186.20,274.20 C189.32,273.10 191.63,272.32 195.60,271.10 C199.57,269.88 205.32,268.57 210.00,266.90 C214.68,265.23 218.28,263.08 223.70,261.10 C229.12,259.12 236.25,257.18 242.50,255.00 C248.75,252.82 254.95,250.27 261.20,248.00 C267.45,245.73 273.53,243.95 280.00,241.40 C286.47,238.85 292.68,236.20 300.00,232.70 C307.32,229.20 315.40,224.63 323.90,220.40 C332.40,216.17 342.62,211.55 351.00,207.30 C359.38,203.05 368.72,198.30 374.20,194.90 C379.68,191.50 378.77,190.70 383.90,186.90 C389.03,183.10 398.80,176.05 405.00,172.10 C411.20,168.15 415.42,166.10 421.10,163.20 C426.78,160.30 434.82,156.75 439.10,154.70 C443.38,152.65 444.22,151.87 446.80,150.90 C449.38,149.93 450.68,149.78 454.60,148.90 C458.52,148.02 463.00,146.55 470.30,145.60 C477.60,144.65 490.72,144.13 498.40,143.20 C506.08,142.27 509.37,141.08 516.40,140.00 C523.43,138.92 534.22,137.58 540.60,136.70 C546.98,135.82 547.67,135.17 554.70,134.70 C561.73,134.23 573.43,133.85 582.80,133.90 C592.17,133.95 601.37,134.10 610.90,135.00 C620.43,135.90 630.47,137.72 640.00,139.30 C649.53,140.88 658.73,142.68 668.10,144.50 C677.47,146.32 686.82,148.15 696.20,150.20 C705.58,152.25 715.20,154.33 724.40,156.80 C733.60,159.27 743.38,162.75 751.40,165.00 C759.42,167.25 767.73,169.27 772.50,170.30 C777.27,171.33 775.23,170.90 780.00,171.20 C784.77,171.50 794.07,171.87 801.10,172.10 C808.13,172.33 814.00,172.43 822.20,172.60 C830.40,172.77 842.10,172.95 850.30,173.10 C858.50,173.25 866.13,173.20 871.40,173.50 C876.67,173.80 877.13,174.68 881.90,174.90 C886.67,175.12 893.47,174.92 900.00,174.80 C906.53,174.68 915.23,175.03 921.10,174.20 C926.97,173.37 929.35,171.53 935.20,169.80 C941.05,168.07 950.35,165.43 956.20,163.80 C962.05,162.17 965.60,161.35 970.30,160.00 C975.00,158.65 979.72,157.23 984.40,155.70 C989.08,154.17 993.72,152.43 998.40,150.80 C1003.08,149.17 1008.90,147.15 1012.50,145.90 C1016.10,144.65 1016.40,144.52 1020.00,143.30 C1023.60,142.08 1029.42,140.12 1034.10,138.60 C1038.78,137.08 1043.42,135.50 1048.10,134.20 C1052.78,132.90 1057.28,131.88 1062.20,130.80 C1067.12,129.72 1072.92,129.22 1077.60,127.70 C1082.28,126.18 1085.83,123.70 1090.30,121.70 C1094.77,119.70 1099.13,117.82 1104.40,115.70 C1109.67,113.58 1117.22,110.28 1121.90,109.00 C1126.58,107.72 1128.63,108.28 1132.50,108.00 C1136.37,107.72 1141.42,107.22 1145.10,107.30 C1148.78,107.38 1150.58,107.77 1154.60,108.50 C1158.62,109.23 1164.33,110.57 1169.20,111.70 C1174.07,112.83 1178.93,114.17 1183.80,115.30 C1188.67,116.43 1193.53,117.47 1198.40,118.50 C1203.27,119.53 1208.12,120.38 1213.00,121.50 C1217.88,122.62 1222.82,124.17 1227.70,125.20 C1232.58,126.23 1236.92,126.75 1242.30,127.70 C1247.68,128.65 1254.62,129.70 1260.00,130.90 C1265.38,132.10 1269.73,133.55 1274.60,134.90 C1279.47,136.25 1285.55,137.83 1289.20,139.00 C1292.85,140.17 1294.07,140.63 1296.50,141.90 C1298.93,143.17 1300.15,144.47 1303.80,146.60 C1307.45,148.73 1313.53,152.08 1318.40,154.70 C1323.27,157.32 1328.12,159.82 1333.00,162.30 C1337.88,164.78 1342.82,167.53 1347.70,169.60 C1352.58,171.67 1356.92,172.60 1362.30,174.70 C1367.68,176.80 1374.62,179.97 1380.00,182.20 C1385.38,184.43 1389.73,186.15 1394.60,188.10 C1399.47,190.05 1404.33,192.02 1409.20,193.90 C1414.07,195.78 1418.93,197.70 1423.80,199.40 C1428.67,201.10 1433.53,202.47 1438.40,204.10 C1443.27,205.73 1448.12,207.25 1453.00,209.20 C1457.88,211.15 1462.82,213.90 1467.70,215.80 C1472.58,217.70 1477.43,219.27 1482.30,220.60 C1487.17,221.93 1491.50,223.30 1496.90,223.80 C1502.30,224.30 1507.05,223.88 1514.70,223.60 C1522.35,223.32 1533.43,222.62 1542.80,222.10 C1552.17,221.58 1563.70,221.25 1570.90,220.50 C1578.10,219.75 1583.48,218.08 1586.00,217.60" fill="none" stroke="#ff8c00" stroke-width="1.0" stroke-linejoin="round"/>
<rect x="1" y="154" width="1629" height="1" fill="#2d4b73" shape-rendering="crispEdges"/>
<g fill="#999999">
<rect x="1631" y="15.30" width="5" height="1"/>
<rect x="1631" y="41.72" width="5" height="1"/>
<rect x="1631" y="68.13" width="5" height="1"/>
<rect x="1631" y="94.55" width="5" height="1"/>
<rect x="1631" y="120.96" width="5" height="1"/>
<rect x="1631" y="147.38" width="5" height="1"/>
<rect x="1631" y="173.79" width="5" height="1"/>
<rect x="1631" y="200.21" width="5" height="1"/>
<rect x="1631" y="226.62" width="5" height="1"/>
<rect x="1631" y="253.03" width="5" height="1"/>
<rect x="1631" y="279.45" width="5" height="1"/>
<rect x="1631" y="305.87" width="5" height="1"/>
<rect x="1631" y="332.28" width="5" height="1"/>
<rect x="1631" y="358.69" width="5" height="1"/>
<rect x="1631" y="385.11" width="5" height="1"/>
<rect x="1631" y="411.52" width="5" height="1"/>
<rect x="1631" y="437.94" width="5" height="1"/>
<rect x="1631" y="464.36" width="5" height="1"/>
<rect x="1631" y="490.77" width="5" height="1"/>
<rect x="1631" y="517.18" width="5" height="1"/>
<rect x="1631" y="543.60" width="5" height="1"/>
<rect x="1631" y="570.01" width="5" height="1"/>
<rect x="1631" y="596.43" width="5" height="1"/>
<rect x="1631" y="622.84" width="5" height="1"/>
<rect x="1631" y="649.26" width="5" height="1"/>
<rect x="1631" y="675.67" width="5" height="1"/>
</g>
<g font-family="Liberation Sans, sans-serif" font-size="11" fill="#555555">
<text x="1638" y="20">0.7300</text>
<text x="1638" y="46">0.7275</text>
<text x="1638" y="73">0.7250</text>
<text x="1638" y="99">0.7225</text>
<text x="1638" y="125">0.7200</text>
<text x="1638" y="152">0.7175</text>
<text x="1638" y="178">0.7150</text>
<text x="1638" y="205">0.7125</text>
<text x="1638" y="231">0.7100</text>
<text x="1638" y="258">0.7075</text>
<text x="1638" y="284">0.7050</text>
<text x="1638" y="310">0.7025</text>
<text x="1638" y="337">0.7000</text>
<text x="1638" y="363">0.6975</text>
<text x="1638" y="390">0.6950</text>
<text x="1638" y="416">0.6925</text>
<text x="1638" y="442">0.6900</text>
<text x="1638" y="469">0.6875</text>
<text x="1638" y="495">0.6850</text>
<text x="1638" y="522">0.6825</text>
<text x="1638" y="548">0.6800</text>
<text x="1638" y="575">0.6775</text>
<text x="1638" y="601">0.6750</text>
<text x="1638" y="627">0.6725</text>
<text x="1638" y="654">0.6700</text>
<text x="1638" y="680">0.6675</text>
</g>
<g fill="#777" shape-rendering="crispEdges">
<rect x="0" y="687" width="1" height="2"/>
<rect x="59" y="687" width="1" height="2"/>
<rect x="104" y="687" width="1" height="2"/>
<rect x="157" y="687" width="1" height="2"/>
<rect x="202" y="687" width="1" height="2"/>
<rect x="246" y="687" width="1" height="2"/>
<rect x="291" y="687" width="1" height="2"/>
<rect x="336" y="687" width="1" height="2"/>
<rect x="389" y="687" width="1" height="2"/>
<rect x="433" y="687" width="1" height="2"/>
<rect x="478" y="687" width="1" height="2"/>
<rect x="523" y="687" width="1" height="2"/>
<rect x="568" y="687" width="1" height="2"/>
<rect x="620" y="687" width="1" height="2"/>
<rect x="665" y="687" width="1" height="2"/>
<rect x="710" y="687" width="1" height="2"/>
<rect x="755" y="687" width="1" height="2"/>
<rect x="800" y="687" width="1" height="2"/>
<rect x="852" y="687" width="1" height="2"/>
<rect x="897" y="687" width="1" height="2"/>
<rect x="942" y="687" width="1" height="2"/>
<rect x="987" y="687" width="1" height="2"/>
<rect x="1032" y="687" width="1" height="2"/>
<rect x="1084" y="687" width="1" height="2"/>
<rect x="1129" y="687" width="1" height="2"/>
<rect x="1174" y="687" width="1" height="2"/>
<rect x="1219" y="687" width="1" height="2"/>
<rect x="1264" y="687" width="1" height="2"/>
<rect x="1316" y="687" width="1" height="2"/>
<rect x="1361" y="687" width="1" height="2"/>
<rect x="1406" y="687" width="1" height="2"/>
<rect x="1451" y="687" width="1" height="2"/>
<rect x="1496" y="687" width="1" height="2"/>
<rect x="1548" y="687" width="1" height="2"/>
<rect x="1593" y="687" width="1" height="2"/>
</g>
<g font-family="Liberation Sans, sans-serif" font-size="11" fill="#555555" text-anchor="middle">
<text x="0" y="703" text-anchor="start">Jan</text>
<text x="59.5" y="703">4</text>
<text x="104.5" y="703">6</text>
<text x="157.5" y="703">8</text>
<text x="202.5" y="703">9</text>
<text x="246.5" y="703">10</text>
<text x="291.5" y="703">11</text>
<text x="336.5" y="703">13</text>
<text x="389.5" y="703">15</text>
<text x="433.5" y="703">16</text>
<text x="478.5" y="703">17</text>
<text x="523.5" y="703">18</text>
<text x="568.5" y="703">20</text>
<text x="620.5" y="703">22</text>
<text x="665.5" y="703">23</text>
<text x="710.5" y="703">24</text>
<text x="755.5" y="703">25</text>
<text x="800.5" y="703">27</text>
<text x="852.5" y="703">29</text>
<text x="897.5" y="703">30</text>
<text x="942.5" y="703">31</text>
<text x="987.5" y="703">Feb</text>
<text x="1032.5" y="703">3</text>
<text x="1084.5" y="703">5</text>
<text x="1129.5" y="703">6</text>
<text x="1174.5" y="703">7</text>
<text x="1219.5" y="703">8</text>
<text x="1264.5" y="703">10</text>
<text x="1316.5" y="703">12</text>
<text x="1361.5" y="703">13</text>
<text x="1406.5" y="703">14</text>
<text x="1451.5" y="703">15</text>
<text x="1496.5" y="703">17</text>
<text x="1548.5" y="703">19</text>
<text x="1593.5" y="703">20</text>
</g>
<path d="M1631,154.5 L1634,151 L1634,148.5 Q1634,147 1635.5,147 L1681,147 Q1682.5,147 1682.5,148.5 L1682.5,160.5 Q1682.5,162 1681,162 L1635.5,162 Q1634,162 1634,160.5 L1634,158 Z" fill="#2e4b72"/>
<text x="1638.3" y="160.2" font-family="Liberation Sans, sans-serif" font-size="11" font-weight="bold" fill="#ffffff">0.71686</text>
</svg>
<div class="lg" style="top:5px;width:79px"><span class="st" style="background:#0047b3"></span>AUD/USD</div><div class="lg" style="top:32px;width:85px"><span class="st" style="background:#ff8c00"></span>SMA (50,0)</div><div class="lg" style="top:59px;width:91px"><span class="st" style="background:#0047b3"></span>SMA (100,0)</div><div class="lg" style="top:86px;width:91px"><span class="st" style="background:#ff00ff"></span>SMA (200,0)</div>
</body></html>
